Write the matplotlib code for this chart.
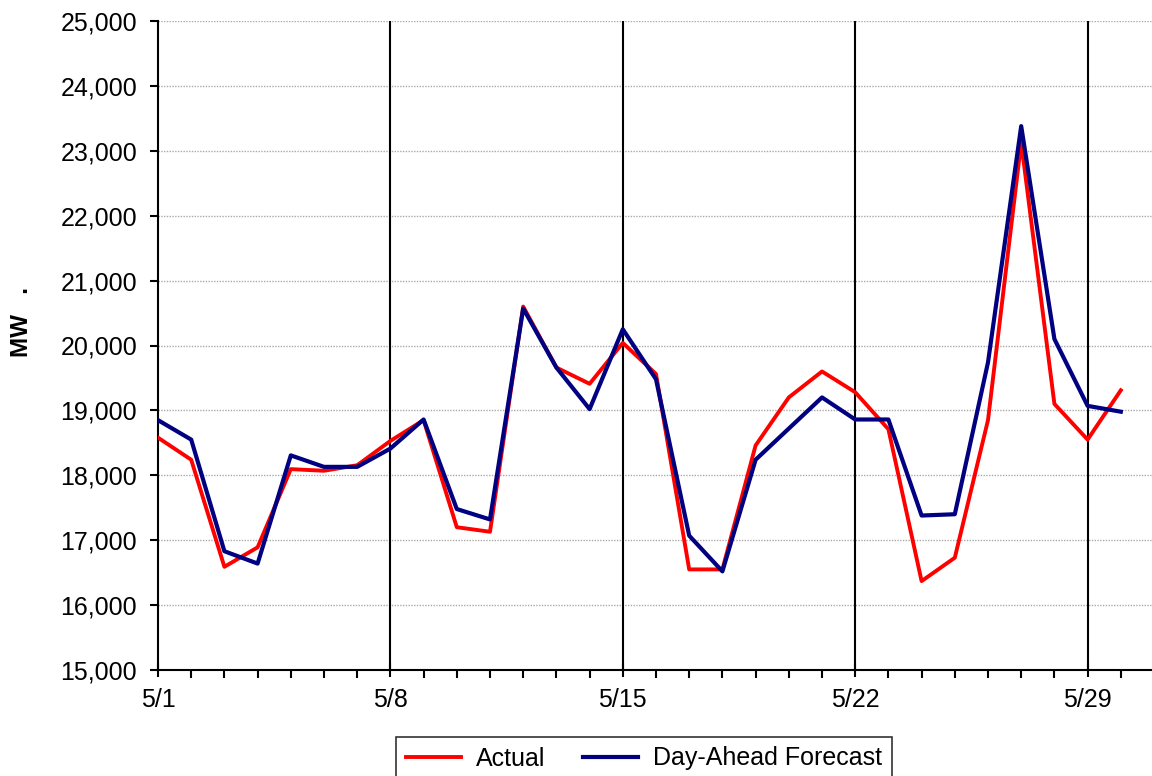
import numpy as np
import matplotlib
matplotlib.use("Agg")
import matplotlib.pyplot as plt
from matplotlib.ticker import FuncFormatter, MultipleLocator

plt.rcParams['font.family'] = ['Liberation Sans', 'DejaVu Sans']

# daily load, May 1 - May 30 (MW)
days = np.arange(1, 31)
actual = [18580, 18240, 16590, 16890, 18095, 18070, 18155, 18530, 18850, 17200,
          17130, 20600, 19660, 19410, 20040, 19560, 16550, 16550, 18460, 19200,
          19600, 19280, 18710, 16370, 16730, 18850, 23130, 19100, 18550, 19310]
forecast = [18850, 18550, 16830, 16640, 18307, 18130, 18130, 18412, 18860, 17480,
            17320, 20570, 19660, 19020, 20250, 19480, 17070, 16520, 18240, 18720,
            19200, 18860, 18860, 17380, 17400, 19740, 23380, 20100, 19070, 18980]
week_ticks = [1, 8, 15, 22, 29]
week_labels = ["5/1", "5/8", "5/15", "5/22", "5/29"]

W, H = 1152, 776
fig = plt.figure(figsize=(W / 100, H / 100), dpi=100)
ax = fig.add_axes([158 / W, 1 - 670 / H, (W - 158) / W, 649 / H])

ax.plot(days, actual, color="#FF0000", lw=2.8, label="Actual", zorder=3)
ax.plot(days, forecast, color="#000080", lw=3.0, label="Day-Ahead Forecast", zorder=4)

ax.set_xlim(1, 1 + (W - 158) / 33.2)
ax.set_ylim(15000, 25000)

ax.set_xticks(week_ticks)
ax.set_xticklabels(week_labels)
ax.xaxis.set_minor_locator(MultipleLocator(1))
ax.yaxis.set_major_locator(MultipleLocator(1000))
ax.yaxis.set_major_formatter(FuncFormatter(lambda v, p: f"{int(v):,}"))

ax.tick_params(axis="y", which="major", direction="out", length=6, width=1.5,
               labelsize=18, pad=9)
ax.tick_params(axis="x", which="major", direction="inout", length=10, width=1.5,
               labelsize=18, pad=8)
ax.tick_params(axis="x", which="minor", direction="out", length=6, width=1.5)

ax.grid(axis="y", color="#aaaaaa", linestyle=(0, (1, 1)), lw=1.0)
for t in week_ticks[1:]:
    ax.axvline(t, color="black", lw=1.5, zorder=2)

for s in ["top", "right"]:
    ax.spines[s].set_visible(False)
for s in ["left", "bottom"]:
    ax.spines[s].set_linewidth(1.5)

fig.text(21 / W, 1 - 322 / H, "MW   .", rotation=90, fontsize=17.5, fontweight="bold",
         ha="center", va="center")

leg = fig.legend(loc="upper center", bbox_to_anchor=(644 / W, 1 - 724 / H), ncol=2,
                 fontsize=18, frameon=True, fancybox=False, handlelength=2.2,
                 columnspacing=1.5, borderpad=0.4, handletextpad=0.6)
leg.get_frame().set_edgecolor("black")
leg.get_frame().set_linewidth(1.2)

fig.savefig("out.png", dpi=100)
